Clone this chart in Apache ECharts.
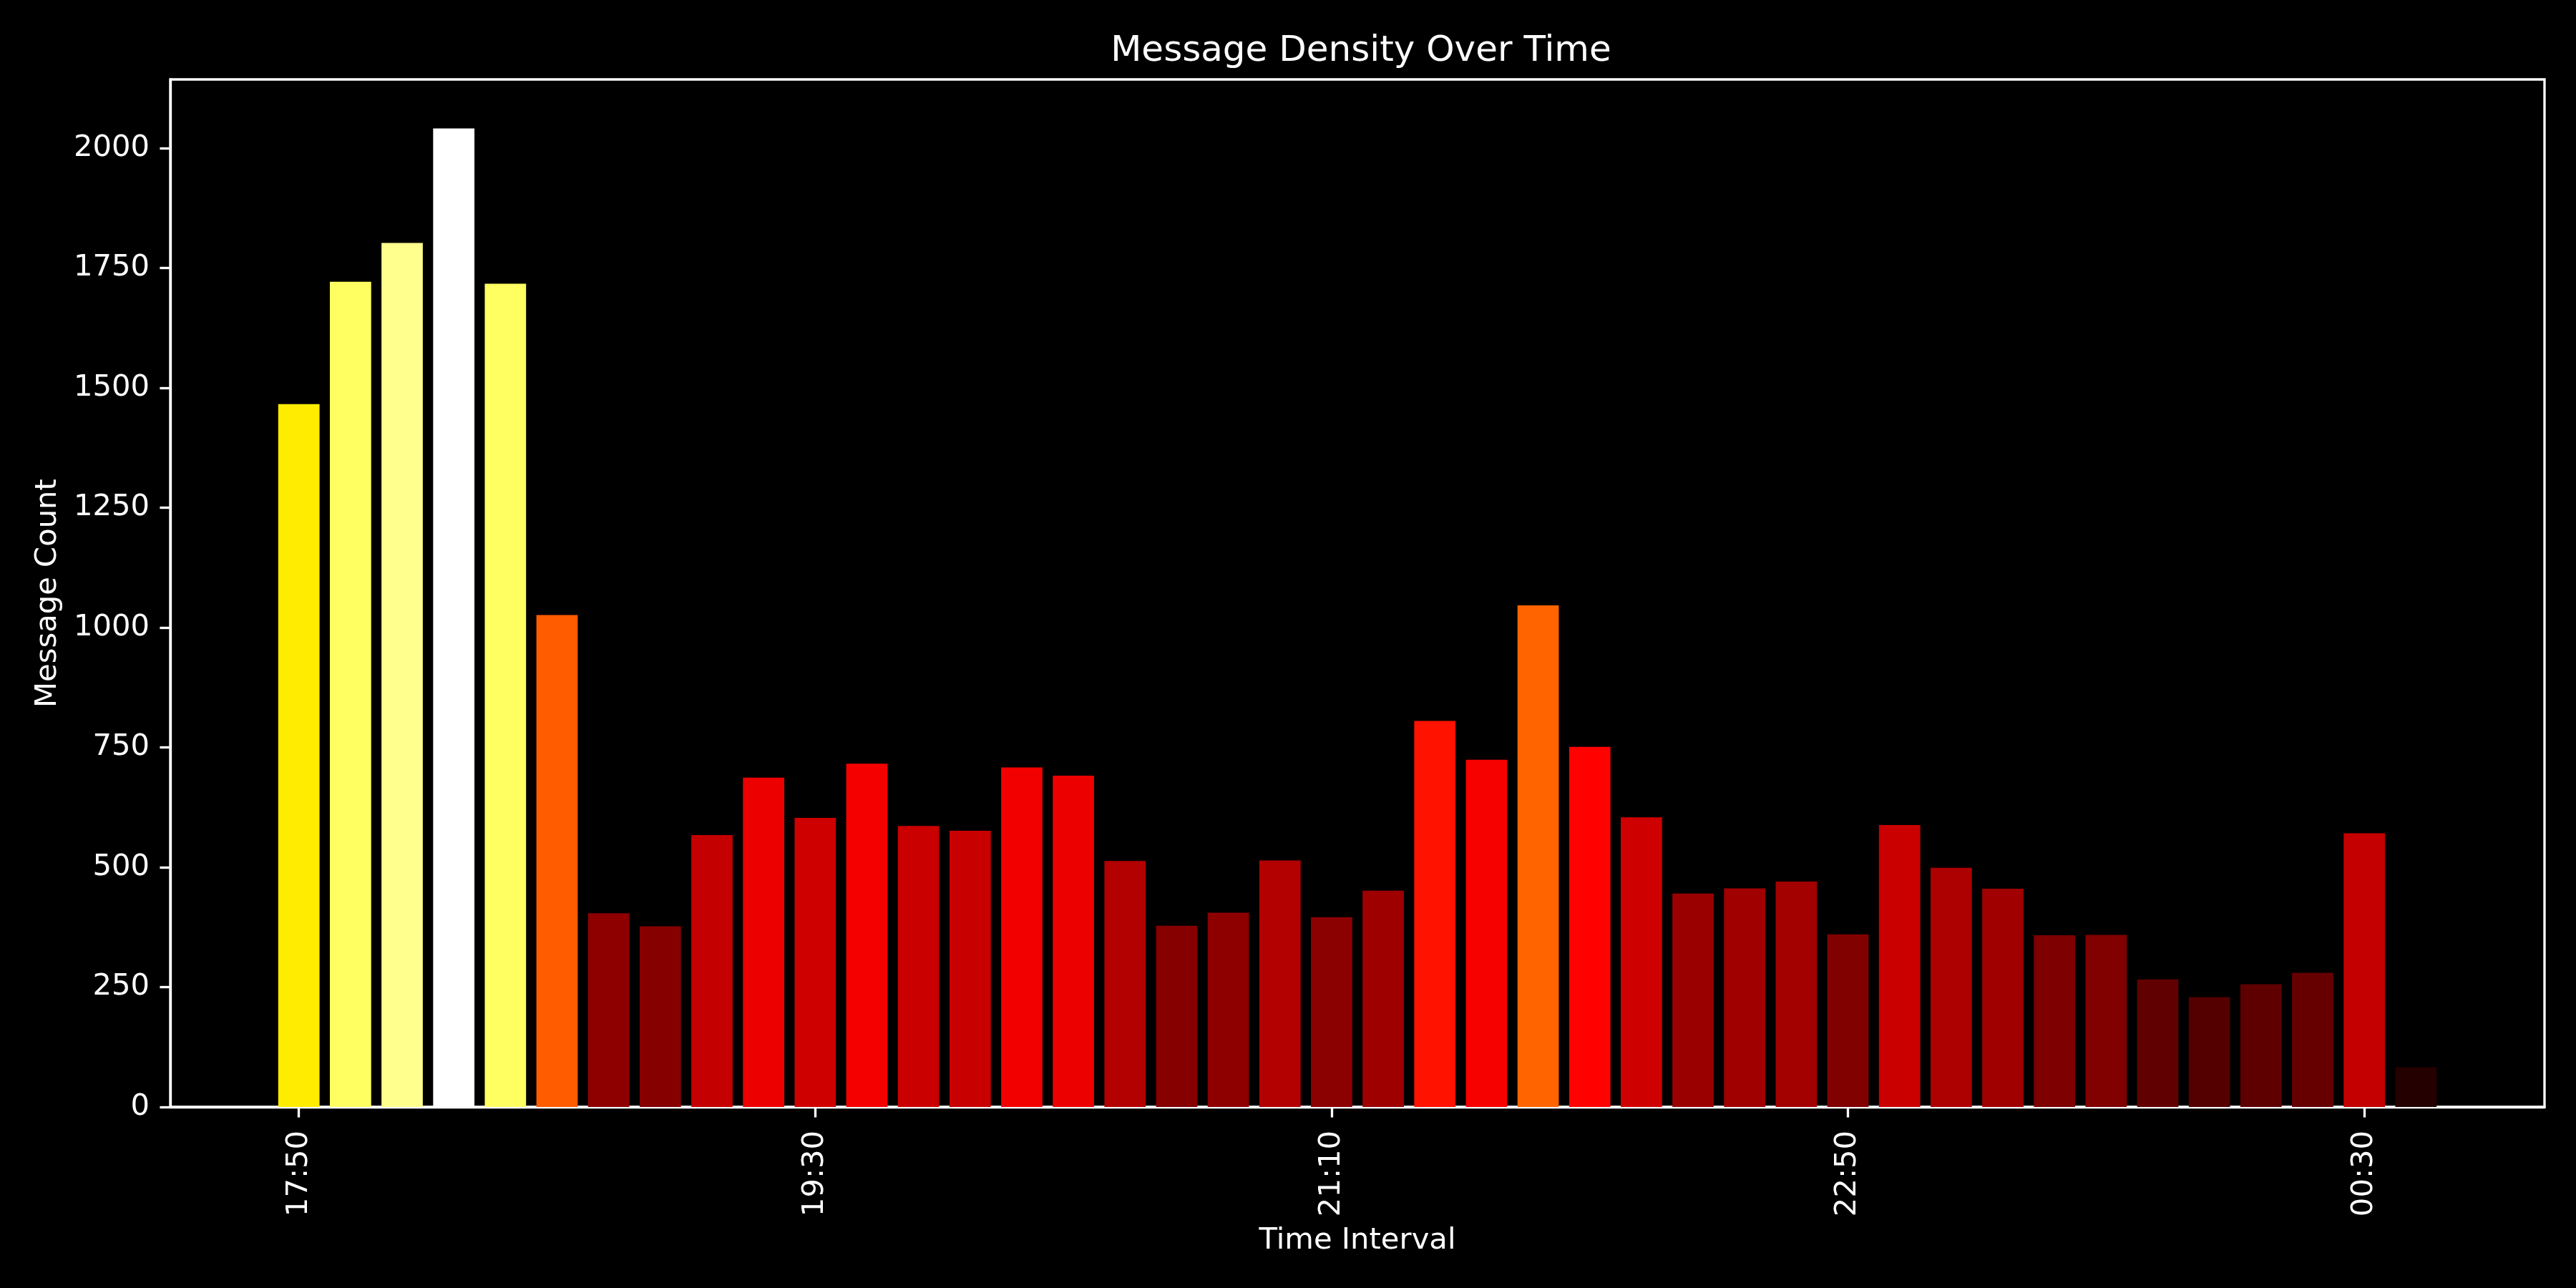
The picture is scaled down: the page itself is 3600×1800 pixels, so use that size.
<!DOCTYPE html>
<html>
<head>
<meta charset="utf-8">
<script src="https://cdn.jsdelivr.net/npm/echarts@6/dist/echarts.min.js"></script>
<style>
html,body{margin:0;padding:0;background:#000;}
#chart{width:3600px;height:1800px;}
</style>
</head>
<body>
<div id="chart"></div>
<script>
var timeLabels = ['17:50','18:00','18:10','18:20','18:30','18:40','18:50','19:00','19:10','19:20',
  '19:30','19:40','19:50','20:00','20:10','20:20','20:30','20:40','20:50','21:00',
  '21:10','21:20','21:30','21:40','21:50','22:00','22:10','22:20','22:30','22:40',
  '22:50','23:00','23:10','23:20','23:30','23:40','23:50','00:00','00:10','00:20',
  '00:30','00:40'];
var messageCounts = [1466,1721,1802,2041,1717,1026,404,377,567,687,
  603,716,586,576,708,691,513,378,405,514,
  396,451,805,724,1046,751,604,445,456,470,
  360,588,499,455,358,359,266,229,256,280,
  571,83];
var xTickLabels = ['17:50','19:30','21:10','22:50','00:30'];
var yTickValues = [0,250,500,750,1000,1250,1500,1750,2000];

// matplotlib 'hot' colormap (256-entry lookup)
function hot(v){
  var i = Math.max(0, Math.min(255, Math.floor(v*256)));
  var x = i/255;
  var r = x < 0.365079 ? 0.0416 + (1-0.0416)*x/0.365079 : 1;
  var g = x < 0.365079 ? 0 : (x < 0.746032 ? (x-0.365079)/(0.746032-0.365079) : 1);
  var b = x < 0.746032 ? 0 : (x-0.746032)/(1-0.746032);
  function h(c){var s=Math.round(Math.min(1,Math.max(0,c))*255).toString(16);return s.length<2?'0'+s:s;}
  return '#'+h(r)+h(g)+h(b);
}

var maxCount = Math.max.apply(null, messageCounts);
var barData = messageCounts.map(function(v,i){
  return {value:[i,v], itemStyle:{color:hot(v/maxCount)}};
});
var xTickIdx = xTickLabels.map(function(t){return timeLabels.indexOf(t);});
var n = timeLabels.length;
var xPad = (n - 1 + 0.8) * 0.05;

var chart = echarts.init(document.getElementById('chart'), null, {renderer:'canvas', width:3600, height:1800});
var font = 'DejaVu Sans';
var lw = 3.33;
chart.setOption({
  backgroundColor:'#000',
  animation:false,
  title:{
    text:'Message Density Over Time',
    left:1897, top:42, textAlign:'center',
    textStyle:{color:'#fff', fontFamily:font, fontSize:50, fontWeight:'normal'}
  },
  grid:{
    left:238, right:44, top:111, bottom:253,
    show:true, borderColor:'#fff', borderWidth:lw, backgroundColor:'#000',
    containLabel:false, outerBoundsMode:'none'
  },
  xAxis:{
    type:'value',
    min:-0.4 - xPad, max:n-1+0.4+xPad,
    name:'Time Interval', nameLocation:'middle', nameGap:166,
    nameTextStyle:{color:'#fff', fontFamily:font, fontSize:41.7},
    splitLine:{show:false},
    axisLine:{show:true, onZero:false, lineStyle:{color:'#fff', width:lw}},
    axisTick:{show:true, inside:false, length:14.6, lineStyle:{color:'#fff', width:lw}, customValues:xTickIdx},
    axisLabel:{
      show:true, rotate:90, margin:33, color:'#fff', fontFamily:font, fontSize:41.7,
      customValues:xTickIdx,
      formatter:function(v){return timeLabels[Math.round(v)];}
    }
  },
  yAxis:{
    type:'value', min:0, max:maxCount*1.05,
    name:'Message Count', nameLocation:'middle', nameGap:150,
    nameTextStyle:{color:'#fff', fontFamily:font, fontSize:41.7},
    splitLine:{show:false},
    axisLine:{show:true, onZero:false, lineStyle:{color:'#fff', width:lw}},
    axisTick:{show:true, inside:false, length:14.6, lineStyle:{color:'#fff', width:lw}, customValues:yTickValues},
    axisLabel:{show:true, margin:29, color:'#fff', fontFamily:font, fontSize:41.7, customValues:yTickValues,
      formatter:function(v){return String(v);}}
  },
  series:[{
    type:'bar',
    data:barData,
    barWidth:'80%'
  }]
});
</script>
</body>
</html>
